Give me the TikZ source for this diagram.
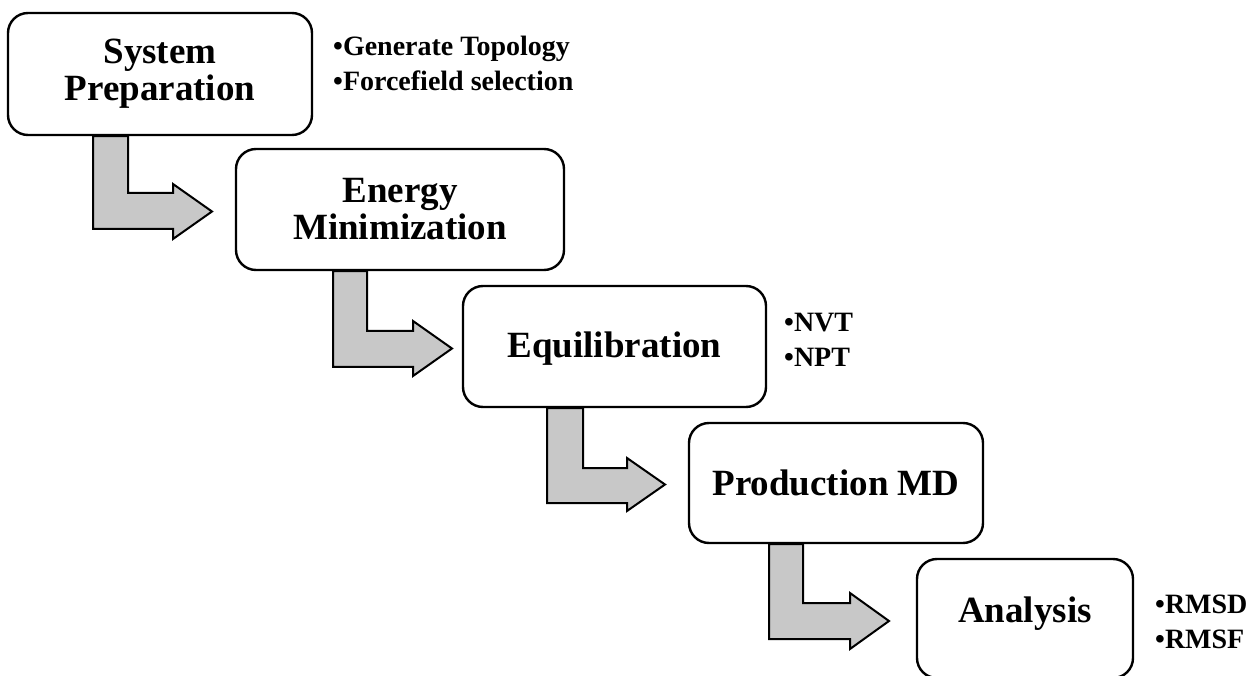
\documentclass[tikz,border=0pt]{standalone}
\usepackage{fontspec}
\setmainfont{Liberation Serif}
\usetikzlibrary{backgrounds}
\definecolor{arrowgray}{RGB}{200,200,200}
\begin{document}
\begin{tikzpicture}[x=1pt,y=-1pt,
  stagebox/.style={draw=black, line width=2.4pt, fill=white, rounded corners=20pt,
    inner sep=0pt, align=center, font=\fontsize{37}{37}\selectfont\bfseries},
  subitem/.style={anchor=base west, inner sep=0pt, font=\fontsize{28}{35}\selectfont\bfseries},
  bentarrow/.style={draw=black, line width=2pt, fill=arrowgray, line join=miter}]
\useasboundingbox (0,0) rectangle (1254,676);
\clip (0,0) rectangle (1254,676);

% stage boxes
\node[stagebox, minimum width=304pt, minimum height=122pt] (b1) at (160,74) {System\\Preparation};
\node[stagebox, minimum width=328pt, minimum height=121pt] (b2) at (400,209.5) {Energy\\Minimization};
\node[stagebox, minimum width=303pt, minimum height=121pt, text height=28pt, text depth=5pt] (b3) at (614.5,346.5) {Equilibration};
\node[stagebox, minimum width=294pt, minimum height=120pt, text height=24pt, text depth=0pt] (b4) at (836,483) {Production MD};
\node[stagebox, minimum width=216pt, minimum height=119pt, text height=14pt, text depth=7pt] (b5) at (1025,618.5) {Analysis};

% bullet notes
\node[subitem] (n1a) at (333,56) {•Generate Topology};
\node[subitem] (n1b) at (333,91) {•Forcefield selection};
\node[subitem] (n3a) at (784,332) {•NVT};
\node[subitem] (n3b) at (784,367) {•NPT};
\node[subitem] (n5a) at (1155,613) {•RMSD};
\node[subitem] (n5b) at (1155,648) {•RMSF};

% bent arrows between stages
\begin{scope}[on background layer]
\draw[bentarrow] (93,0 |- b1.south) -- (93,229) -- (173,229) -- (173,239) -- (212,211.5)
  -- (173,184) -- (173,193) -- (128,193) -- (128,0 |- b1.south) -- cycle;
\draw[bentarrow] (333,0 |- b2.south) -- (333,367) -- (413,367) -- (413,376) -- (452,348.5)
  -- (413,321) -- (413,331) -- (367,331) -- (367,0 |- b2.south) -- cycle;
\draw[bentarrow] (547,0 |- b3.south) -- (547,503) -- (627,503) -- (627,511) -- (665,484.5)
  -- (627,458) -- (627,468) -- (583,468) -- (583,0 |- b3.south) -- cycle;
\draw[bentarrow] (769,0 |- b4.south) -- (769,639) -- (850,639) -- (850,649) -- (889,621)
  -- (850,593) -- (850,603) -- (803,603) -- (803,0 |- b4.south) -- cycle;
\end{scope}
\end{tikzpicture}
\end{document}
